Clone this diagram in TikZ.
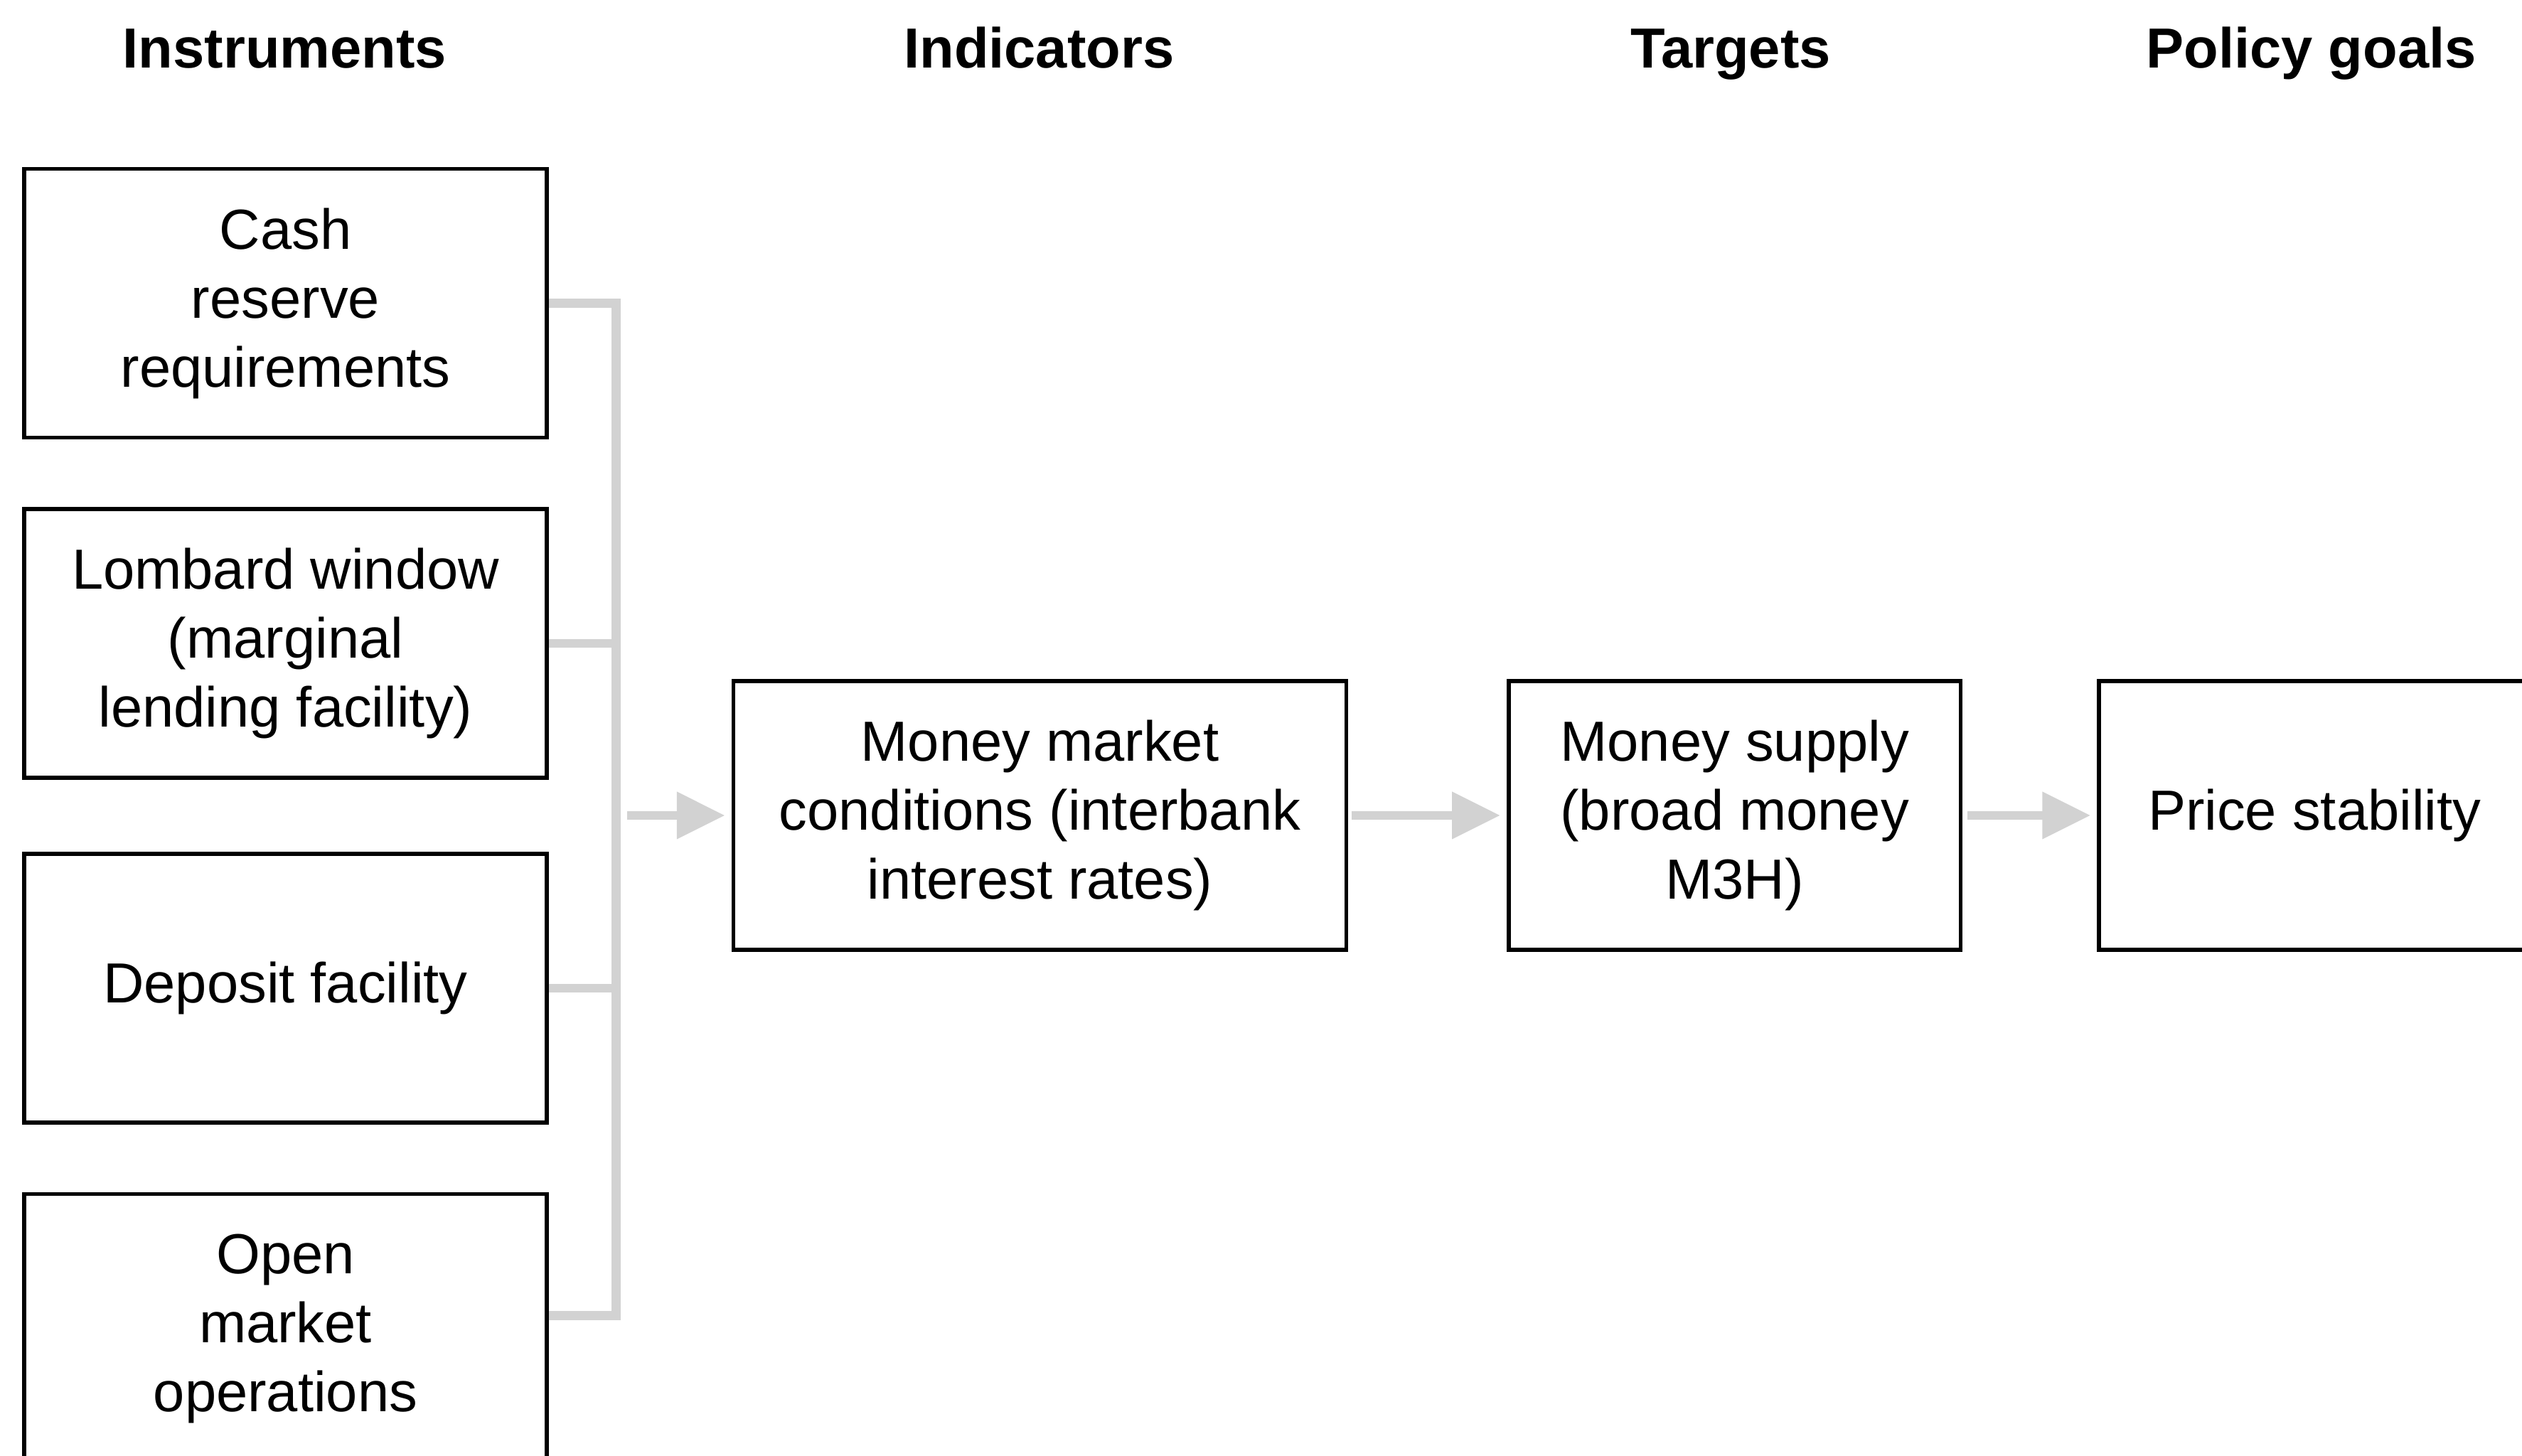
\documentclass[tikz,border=0pt]{standalone}
\usepackage{fontspec}
\setmainfont{Liberation Sans}
\usetikzlibrary{arrows.meta}

\tikzset{
  box/.style={draw, line width=0.7pt, align=center, inner sep=0pt,
              minimum height=16.7mm, font=\fontsize{10}{12.2}\selectfont},
  head/.style={anchor=base, font=\fontsize{10}{12}\selectfont\bfseries},
  link/.style={draw=gray!35, line width=1.6pt},
  flow/.style={link, -{Triangle[length=3mm,width=2.8mm]}, shorten >=0.4mm}
}

\begin{document}
\begin{tikzpicture}

\useasboundingbox (0,0) rectangle (15.68,-9.05);
\clip (0,0) rectangle (15.68,-9.05);

% column headings, all on one baseline
\node[head] (hInstr) at (1.77,-0.42)  {Instruments};
\node[head] (hIndic) at (6.46,-0.42)  {Indicators};
\node[head] (hTarg)  at (10.76,-0.42) {Targets};
\node[head] (hGoal)  at (14.37,-0.42) {Policy goals};

% instruments, one under the other
\foreach \n/\y/\t in {cash/-1.885/{Cash\\reserve\\requirements},
                      lombard/-4.0/{Lombard window\\(marginal\\lending facility)},
                      deposit/-6.145/{Deposit facility},
                      open/-8.26/{Open\\market\\operations}}{%
    \node[box, minimum width=32.5mm] (\n) at (1.775,\y) {\t};
}

% chain to the right
\node[box, minimum width=38.1mm] (mmc)   at (6.465,-5.07)  {Money market\\conditions (interbank\\interest rates)};
\node[box, minimum width=28.1mm] (msup)  at (10.785,-5.07) {Money supply\\(broad money\\M3H)};
\node[box, minimum width=26.8mm] (price) at (14.39,-5.07)  {Price stability};

% collecting bar
\coordinate (jtop) at (3.83,-1.885);
\coordinate (jbot) at (3.83,-8.18);
\coordinate (jmid) at (3.90,-5.07);

\draw[link] (cash.east) -- (jtop) -- (jbot) -- (open.east |- jbot);
\foreach \n in {lombard,deposit}{%
    \draw[link] (\n.east) -- (\n.east -| jtop);
}

% arrows
\draw[flow] (jmid) -- (mmc.west);
\draw[flow, shorten <=0.2mm] (mmc.east) -- (msup.west);
\draw[flow, shorten <=0.3mm] (msup.east) -- (price.west);

\end{tikzpicture}
\end{document}
